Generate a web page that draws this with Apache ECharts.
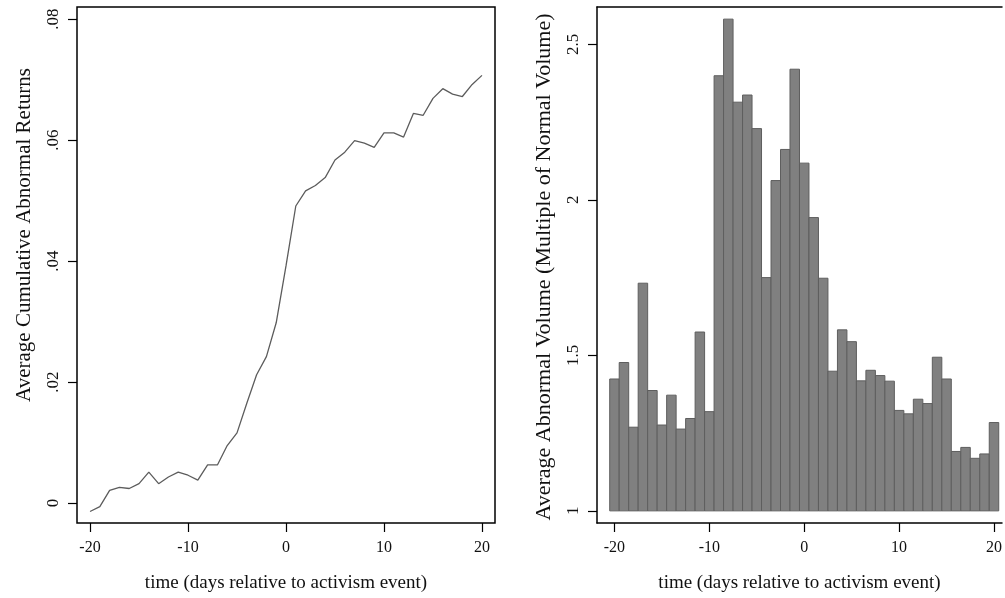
<!DOCTYPE html>
<html>
<head>
<meta charset="utf-8">
<script src="https://cdn.jsdelivr.net/npm/echarts@6/dist/echarts.min.js"></script>
<style>
html,body{margin:0;padding:0;background:#fff;}
#c{width:1005px;height:598px;}
</style>
</head>
<body>
<div id="c"></div>
<script>
// ---- data ----
var days = [-20,-19,-18,-17,-16,-15,-14,-13,-12,-11,-10,-9,-8,-7,-6,-5,-4,-3,-2,-1,0,1,2,3,4,5,6,7,8,9,10,11,12,13,14,15,16,17,18,19,20];
var car = [-0.0014,-0.0006,0.0021,0.0026,0.0024,0.0032,0.0051,0.0032,0.0043,0.0051,0.0046,0.0038,0.0063,0.0063,0.0095,0.0116,0.0165,0.0212,0.0242,0.0298,0.0392,0.0491,0.0516,0.0525,0.0538,0.0567,0.0580,0.0599,0.0595,0.0588,0.0612,0.0612,0.0605,0.0644,0.0641,0.0669,0.0685,0.0676,0.0672,0.0692,0.0707];
var volume = [1.424,1.477,1.269,1.732,1.387,1.276,1.372,1.263,1.297,1.575,1.319,2.399,2.581,2.314,2.337,2.229,1.750,2.062,2.162,2.420,2.118,1.943,1.748,1.449,1.582,1.544,1.418,1.452,1.435,1.417,1.323,1.312,1.359,1.345,1.494,1.424,1.191,1.204,1.169,1.183,1.284];
var xTicks = [-20,-10,0,10,20];
var carTicks = [0,0.02,0.04,0.06,0.08];
var volTicks = [1,1.5,2,2.5];
var volBase = 1;
var xTitle = 'time (days relative to activism event)';
var carTitle = 'Average Cumulative Abnormal Returns';
var volTitle = 'Average Abnormal Volume (Multiple of Normal Volume)';

var FONT = '"Liberation Serif", "DejaVu Serif", serif';
var chart = echarts.init(document.getElementById('c'), null, {renderer:'canvas'});
var LINE = {color:'#000', width:1.5};

function xAxisCfg(idx, min, max, showLine){
  return {
    type:'value', gridIndex: idx, min:min, max:max, position:'bottom',
    axisLine:{show:showLine, onZero:false, lineStyle:LINE},
    splitLine:{show:false},
    axisTick:{show:true, inside:false, length:9, customValues:xTicks, lineStyle:{color:'#000', width:1.2}},
    axisLabel:{show:true, customValues:xTicks, margin:17, color:'#111', fontFamily:FONT, fontSize:16},
    name: xTitle, nameLocation:'middle', nameGap:51,
    nameTextStyle:{fontFamily:FONT, fontSize:19, color:'#111'}
  };
}

var carData = days.map(function(d,i){return [d, car[i]];});
var volData = days.map(function(d,i){return [d, volume[i]];});

chart.setOption({
  backgroundColor:'#fff',
  animation:false,
  grid:[
    {left:77, width:418, top:7, bottom:75, show:true, borderColor:'#000', borderWidth:1.5, backgroundColor:'transparent'},
    {left:597, right:0, top:7, bottom:75, show:false}
  ],
  xAxis:[
    xAxisCfg(0, -21.33, 21.33, false),
    xAxisCfg(1, -21.84, 20.84, true),
    {type:'value', gridIndex:1, position:'top', min:-21.84, max:20.84,
     axisLine:{show:true, onZero:false, lineStyle:LINE}, axisTick:{show:false}, axisLabel:{show:false}, splitLine:{show:false}}
  ],
  yAxis:[
    {
      type:'value', gridIndex:0, min:-0.0033, max:0.082,
      axisLine:{show:false, onZero:false}, splitLine:{show:false},
      axisTick:{show:true, length:9, customValues:carTicks, lineStyle:{color:'#000', width:1.2}},
      axisLabel:{show:true, customValues:carTicks, rotate:90, margin:15, color:'#111', fontFamily:FONT, fontSize:17,
        formatter:function(v){ return v===0 ? '0' : v.toFixed(2).replace(/^0/,''); }}
    },
    {
      type:'value', gridIndex:1, min:0.961, max:2.62,
      axisLine:{show:true, onZero:false, lineStyle:LINE}, splitLine:{show:false},
      axisTick:{show:true, length:9, customValues:volTicks, lineStyle:{color:'#000', width:1.2}},
      axisLabel:{show:true, customValues:volTicks, rotate:90, margin:15, color:'#111', fontFamily:FONT, fontSize:17,
        formatter:function(v){ return String(v); }}
    }
  ],
  graphic:[
    {type:'text', x:24, y:235, rotation:Math.PI/2,
     style:{text:carTitle, fontFamily:FONT, fontSize:21, fill:'#111', align:'center', verticalAlign:'middle'}},
    {type:'text', x:544, y:267, rotation:Math.PI/2,
     style:{text:volTitle, fontFamily:FONT, fontSize:22, fill:'#111', align:'center', verticalAlign:'middle'}}
  ],
  series:[
    {
      type:'line', xAxisIndex:0, yAxisIndex:0, data:carData,
      showSymbol:false, symbol:'none',
      lineStyle:{color:'#5c5c5c', width:1.3}
    },
    {
      type:'custom', xAxisIndex:1, yAxisIndex:1, data:volData,
      renderItem:function(params, api){
        var x = api.value(0), v = api.value(1);
        var p1 = api.coord([x-0.5, v]);
        var p2 = api.coord([x+0.5, volBase]);
        return {
          type:'rect',
          shape:{x:p1[0], y:p1[1], width:p2[0]-p1[0], height:p2[1]-p1[1]},
          style:{fill:'#808080', stroke:'#5e5e5e', lineWidth:1}
        };
      }
    }
  ]
});
</script>
</body>
</html>
